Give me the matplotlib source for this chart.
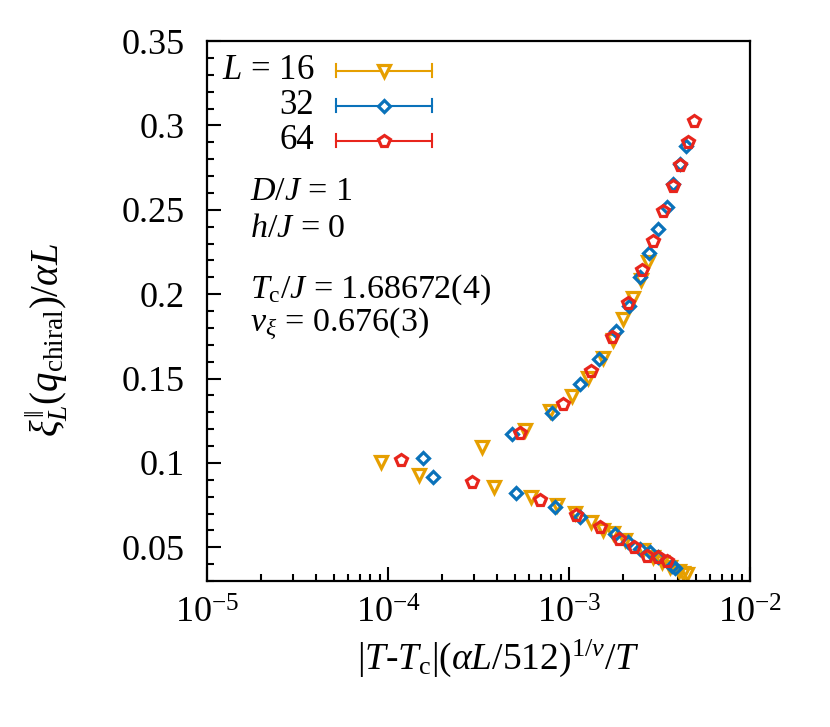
import matplotlib
matplotlib.use('Agg')
import matplotlib.pyplot as plt
from matplotlib.ticker import LogLocator, MultipleLocator, FixedLocator, NullFormatter
import numpy as np

plt.rcParams['font.family'] = ['Liberation Serif', 'DejaVu Serif']
plt.rcParams['mathtext.fontset'] = 'custom'
plt.rcParams['mathtext.rm'] = 'Liberation Serif'
plt.rcParams['mathtext.it'] = 'Liberation Serif:italic'
plt.rcParams['mathtext.bf'] = 'Liberation Serif:bold'

# data: L = 16
x16 = [9.2e-5, 1.48e-4, 3.32e-4, 3.84e-4, 5.71e-4, 6.17e-4, 7.86e-4, 8.63e-4,
       1.04e-3, 1.08e-3, 1.28e-3, 1.32e-3, 1.55e-3, 1.55e-3, 1.76e-3, 1.76e-3,
       2.00e-3, 2.04e-3, 2.26e-3, 2.50e-3, 2.57e-3, 2.74e-3, 2.92e-3, 3.25e-3,
       3.61e-3, 4.07e-3, 4.28e-3, 4.51e-3]
y16 = [0.1007, 0.0926, 0.1096, 0.0859, 0.1195, 0.0796, 0.1307, 0.0750,
       0.1398, 0.0701, 0.1505, 0.0651, 0.1620, 0.0602, 0.1728, 0.0582,
       0.1851, 0.0543, 0.1975, 0.2084, 0.0484, 0.2192, 0.0440, 0.0414,
       0.0381, 0.0361, 0.0346, 0.0340]

# data: L = 32
x32 = [1.56e-4, 1.78e-4, 4.84e-4, 5.08e-4, 8.09e-4, 8.34e-4, 1.15e-3, 1.15e-3,
       1.47e-3, 1.80e-3, 1.81e-3, 2.13e-3, 2.15e-3, 2.47e-3, 2.47e-3, 2.78e-3,
       2.80e-3, 3.11e-3, 3.11e-3, 3.47e-3, 3.69e-3, 3.76e-3, 3.85e-3, 4.08e-3,
       4.41e-3]
y32 = [0.1030, 0.0918, 0.1170, 0.0823, 0.1297, 0.0740, 0.1466, 0.0677,
       0.1616, 0.0578, 0.1781, 0.0533, 0.1930, 0.2103, 0.0488, 0.2246,
       0.0474, 0.2384, 0.0440, 0.2518, 0.0389, 0.2653, 0.0375, 0.2770,
       0.2880]

# data: L = 64
x64 = [1.18e-4, 2.91e-4, 5.36e-4, 6.95e-4, 9.23e-4, 1.10e-3, 1.32e-3, 1.49e-3,
       1.73e-3, 1.90e-3, 2.13e-3, 2.29e-3, 2.52e-3, 2.69e-3, 2.92e-3, 3.11e-3,
       3.32e-3, 3.49e-3, 3.74e-3, 4.10e-3, 4.53e-3, 4.92e-3]
y64 = [0.1015, 0.0885, 0.1175, 0.0778, 0.1349, 0.0693, 0.1546, 0.0622,
       0.1748, 0.0547, 0.1946, 0.0504, 0.2143, 0.0448, 0.2317, 0.0445,
       0.2493, 0.0419, 0.2640, 0.2765, 0.2900, 0.3026]

sizes = ['16', '32', '64']
colors = ['#E69F00', '#0A72BA', '#E8251C']
markers = ['v', 'D', 'p']
msizes = [8.5, 6.5, 8.5]

fig = plt.figure(figsize=(8.3, 7.27), dpi=100)
ax = fig.add_axes([0.2494, 0.2008, 0.6542, 0.7428])

for xs, ys, c, m, ms in zip([x16, x32, x64], [y16, y32, y64], colors, markers, msizes):
    ax.plot(xs, ys, ls='none', marker=m, ms=ms, mfc='none', mec=c, mew=2.3)

ax.set_xscale('log')
ax.set_xlim(1e-5, 1e-2)
ax.set_ylim(0.03, 0.35)
ax.xaxis.set_major_locator(FixedLocator([1e-5, 1e-4, 1e-3, 1e-2]))
ax.xaxis.set_minor_locator(LogLocator(base=10, subs=np.arange(2, 10)))
ax.xaxis.set_minor_formatter(NullFormatter())
ax.set_xticklabels([r'$10^{-5}$', r'$10^{-4}$', r'$10^{-3}$', r'$10^{-2}$'])
ax.yaxis.set_major_locator(FixedLocator([0.05, 0.1, 0.15, 0.2, 0.25, 0.3, 0.35]))
ax.set_yticklabels(['0.05', '0.1', '0.15', '0.2', '0.25', '0.3', '0.35'])
ax.yaxis.set_minor_locator(MultipleLocator(0.01))

ax.tick_params(which='both', direction='in', top=False, right=False, width=1.5,
               labelsize=26)
ax.tick_params(axis='y', pad=16)
ax.tick_params(axis='x', pad=12)
ax.tick_params(which='major', length=10)
ax.tick_params(which='minor', length=5)
for s in ['top', 'right', 'left', 'bottom']:
    ax.spines[s].set_linewidth(1.6)

ax.set_xlabel(r'$|T$-$T_{\rm c}|(\alpha L/512)^{1/\nu}/T$', fontsize=27)
ax.set_ylabel(r'$\xi^{\|}_{L}(q_{\rm chiral})/\alpha L$', fontsize=28)
ax.xaxis.set_label_coords(0.536, -0.105)
ax.yaxis.set_label_coords(-0.252, 0.446)

# legend drawn by hand
tr = ax.transAxes
leg_y = [0.945, 0.880, 0.815]
leg_lab = [r'$L$ = 16', '32', '64']
for yy, lab, c, m, ms in zip(leg_y, leg_lab, colors, markers, msizes):
    ax.text(0.197, yy, lab, transform=tr, ha='right', va='center', fontsize=25)
    ax.plot([0.237, 0.414], [yy, yy], transform=tr, color=c, lw=1.5, clip_on=False)
    for xe in [0.237, 0.414]:
        ax.plot([xe, xe], [yy - 0.012, yy + 0.012], transform=tr, color=c, lw=1.5)
    ax.plot([0.3255], [yy], transform=tr, marker=m, ms=ms, mfc='white', mec=c, mew=2.3)

ax.text(0.079, 0.720, r'$D/J$ = 1', transform=tr, fontsize=24.5, va='center')
ax.text(0.079, 0.653, r'$h/J$ = 0', transform=tr, fontsize=24.5, va='center')
ax.text(0.079, 0.540, r'$T_{\rm c}/J$ = 1.68672(4)', transform=tr, fontsize=24.5, va='center')
ax.text(0.079, 0.475, r'$\nu_{\xi}$ = 0.676(3)', transform=tr, fontsize=24.5, va='center')

plt.savefig('out.png', dpi=100)
